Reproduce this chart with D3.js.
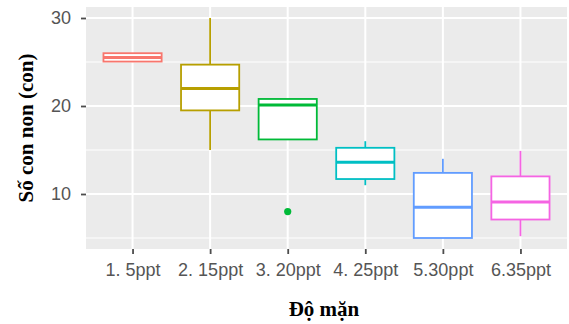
<!DOCTYPE html>
<html>
<head>
<meta charset="utf-8">
<script src="https://cdn.jsdelivr.net/npm/d3@7"></script>
<style>
  html, body { margin: 0; padding: 0; background: #ffffff; }
  svg { display: block; }
</style>
</head>
<body>
<script>
// ---- data ----
const categories = ["1. 5ppt", "2. 15ppt", "3. 20ppt", "4. 25ppt", "5.30ppt", "6.35ppt"];
const lowerWhisker = [25, 15, 16.2, 11, 5, 5.2];
const q1Values     = [25.05, 19.5, 16.2, 11.7, 5, 7.1];
const medianValues = [25.5, 22, 20.1, 13.6, 8.5, 9.1];
const q3Values     = [26, 24.7, 20.8, 15.25, 12.4, 12];
const upperWhisker = [26, 30, 20.8, 16, 14, 14.9];
const outliers     = [[], [], [8], [], [], []];
const colors = ["#F8766D", "#B79F00", "#00BA38", "#00BFC4", "#619CFF", "#F564E3"];
const yTicks = [10, 20, 30];
const yMinorTicks = [5, 15, 25];
const yTitle = "Số con non (con)";
const xTitle = "Độ mặn";

const W = 569, H = 324;
const panel = { left: 86, right: 567, top: 7, bottom: 249 };

const svg = d3.select("body").append("svg").attr("width", W).attr("height", H);

const x = d3.scalePoint().domain(categories).range([panel.left, panel.right]).padding(0.6);
const y = d3.scaleLinear().domain([3.75, 31.25]).range([panel.bottom, panel.top]);
const step = x.step();
const boxW = step * 0.75;

// panel background
svg.append("rect")
  .attr("x", panel.left).attr("y", panel.top)
  .attr("width", panel.right - panel.left).attr("height", panel.bottom - panel.top)
  .attr("fill", "#EBEBEB");

// minor grid
svg.selectAll(".minor").data(yMinorTicks).enter().append("line")
  .attr("x1", panel.left).attr("x2", panel.right)
  .attr("y1", d => y(d)).attr("y2", d => y(d))
  .attr("stroke", "#ffffff").attr("stroke-width", 1);

// major grid
svg.selectAll(".majorY").data(yTicks).enter().append("line")
  .attr("x1", panel.left).attr("x2", panel.right)
  .attr("y1", d => y(d)).attr("y2", d => y(d))
  .attr("stroke", "#ffffff").attr("stroke-width", 2);
svg.selectAll(".majorX").data(categories).enter().append("line")
  .attr("x1", d => x(d)).attr("x2", d => x(d))
  .attr("y1", panel.top).attr("y2", panel.bottom)
  .attr("stroke", "#ffffff").attr("stroke-width", 2);

// boxes
const data = categories.map((c, i) => ({
  c, lo: lowerWhisker[i], q1: q1Values[i], med: medianValues[i], q3: q3Values[i],
  hi: upperWhisker[i], out: outliers[i], color: colors[i]
}));

const g = svg.append("g");
data.forEach(d => {
  const cx = x(d.c);
  g.append("line").attr("x1", cx).attr("x2", cx)
    .attr("y1", y(d.hi)).attr("y2", y(d.q3))
    .attr("stroke", d.color).attr("stroke-width", 1.8);
  g.append("line").attr("x1", cx).attr("x2", cx)
    .attr("y1", y(d.q1)).attr("y2", y(d.lo))
    .attr("stroke", d.color).attr("stroke-width", 1.8);
  g.append("rect")
    .attr("x", cx - boxW / 2).attr("y", y(d.q3))
    .attr("width", boxW).attr("height", y(d.q1) - y(d.q3))
    .attr("fill", "#ffffff").attr("stroke", d.color).attr("stroke-width", 1.8);
  g.append("line")
    .attr("x1", cx - boxW / 2).attr("x2", cx + boxW / 2)
    .attr("y1", y(d.med)).attr("y2", y(d.med))
    .attr("stroke", d.color).attr("stroke-width", 3);
  d.out.forEach(v => {
    g.append("circle").attr("cx", cx).attr("cy", y(v)).attr("r", 3.6).attr("fill", d.color);
  });
});

// y axis
const yAxis = d3.axisLeft(y).tickValues(yTicks).tickSize(5).tickPadding(10).tickFormat(d3.format("d"));
const ya = svg.append("g").attr("transform", `translate(${panel.left},0)`).call(yAxis);
ya.select(".domain").remove();
ya.selectAll(".tick line").attr("stroke", "#4D4D4D").attr("stroke-width", 1.8);
ya.selectAll(".tick text").attr("fill", "#555555")
  .style("font-family", "'Liberation Sans', Arial, sans-serif").style("font-size", "18px");

// x axis
const xAxis = d3.axisBottom(x).tickSize(5).tickPadding(9);
const xa = svg.append("g").attr("transform", `translate(0,${panel.bottom})`).call(xAxis);
xa.select(".domain").remove();
xa.selectAll(".tick line").attr("stroke", "#4D4D4D").attr("stroke-width", 1.8);
xa.selectAll(".tick text").attr("fill", "#555555")
  .style("font-family", "'Liberation Sans', Arial, sans-serif").style("font-size", "18px");

// titles
svg.append("text")
  .attr("x", 324).attr("y", 316)
  .attr("text-anchor", "middle")
  .style("font-family", "'Liberation Serif', 'Times New Roman', serif")
  .style("font-weight", "bold").style("font-size", "21px")
  .attr("fill", "#000").text(xTitle);

svg.append("text")
  .attr("transform", `translate(32.5,${(panel.top + panel.bottom) / 2}) rotate(-90)`)
  .attr("text-anchor", "middle")
  .style("font-family", "'Liberation Serif', 'Times New Roman', serif")
  .style("font-weight", "bold").style("font-size", "21px")
  .attr("fill", "#000").text(yTitle);
</script>
</body>
</html>
